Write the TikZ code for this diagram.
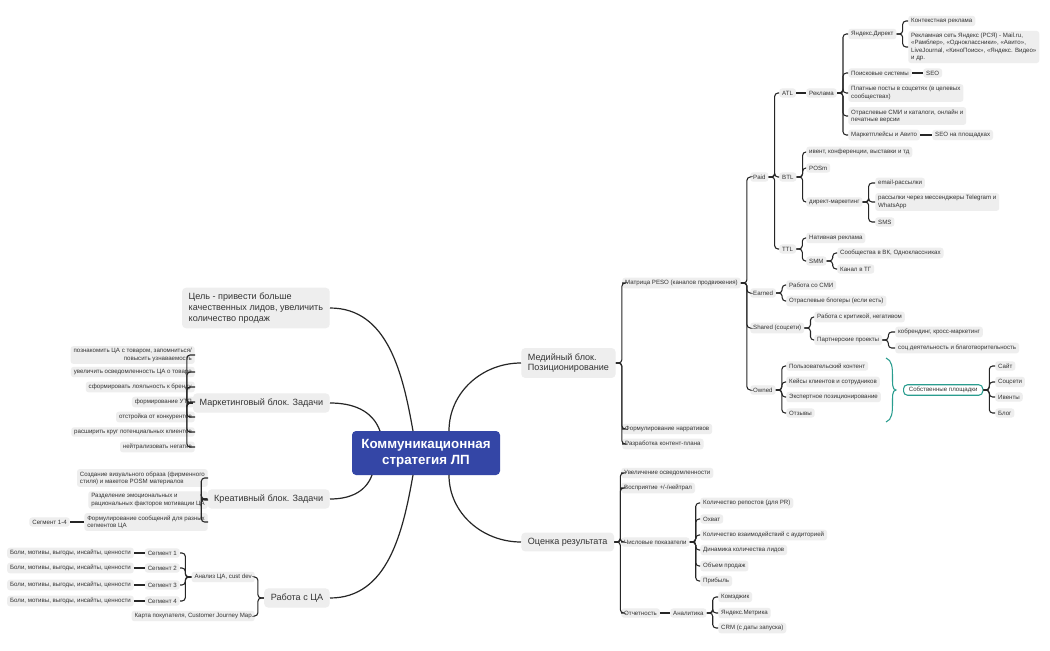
\documentclass[tikz,border=0pt]{standalone}
\usepackage{fontspec}
\setmainfont{Liberation Sans}
\definecolor{nodegray}{HTML}{EEEEEE}
\definecolor{centerblue}{HTML}{3446A6}
\definecolor{teal1}{HTML}{2A9D8F}
\newcommand\rcon[2]{\draw[conn] (#1.east) -- ++(6,0) |- (#2.west);}
\newcommand\lcon[2]{\draw[conn] (#1.west) -- ++(-6,0) |- (#2.east);}
\newcommand\hcon[2]{\draw[conn] (#1.east) -- (#2.west);}
\newcommand\hlcon[2]{\draw[conn] (#1.west) -- (#2.east);}
\begin{document}
\begin{tikzpicture}[x=0.75pt,y=-0.75pt,
  box/.style={fill=nodegray,rounded corners=2pt,inner xsep=2.2pt,inner ysep=1.8pt,font=\fontsize{4.6}{5.4}\selectfont,align=left,text=black!80},
  R/.style={box,anchor=west},
  L/.style={box,anchor=east,align=right},
  big/.style={fill=nodegray,rounded corners=3pt,inner xsep=5pt,inner ysep=4pt,font=\fontsize{6.8}{8}\selectfont,align=left,text=black!80},
  conn/.style={draw=black!85,line width=0.8pt,rounded corners=2.5pt},
  curve/.style={draw=black!85,line width=0.9pt}]
\useasboundingbox (0,0) rectangle (1050,650);
\fill[white] (0,0) rectangle (1050,650);
% center
\node[fill=centerblue,rounded corners=3pt,text=white,font=\fontsize{10}{12}\selectfont\bfseries,align=center,minimum width=111pt,minimum height=33pt] (c) at (426,453) {Коммуникационная\\стратегия ЛП};
% main branches
\node[big,anchor=west] (med) at (521,363) {Медийный блок.\\Позиционирование};
\node[big,anchor=west] (oc) at (521,542) {Оценка результата};
\node[big,anchor=east] (goal) at (330,308) {Цель - привести больше\\качественных лидов, увеличить\\количество продаж};
\node[big,anchor=east] (mk) at (330,403) {Маркетинговый блок. Задачи};
\node[big,anchor=east] (cr) at (330,499) {Креативный блок. Задачи};
\node[big,anchor=east] (ca) at (330,598) {Работа с ЦА};
\draw[curve] (449,431) to[out=90,in=180] (med.west);
\draw[curve] (449,475) to[out=-90,in=180] (oc.west);
\draw[curve] (413,431) to[out=100,in=0] (goal.east);
\draw[curve] (380,431) to[out=110,in=0] (mk.east);
\draw[curve] (372,475) to[out=-110,in=0] (cr.east);
\draw[curve] (413,475) to[out=-100,in=0] (ca.east);
% ---- Media
\node[R] (peso) at (622,283) {Матрица PESO (каналов продвижения)};
\node[R] (nar) at (622,429) {Формулирование нарративов};
\node[R] (kp) at (622,444) {Разработка контент-плана};
\foreach \n in {peso,nar,kp} {\rcon{med}{\n}}
\node[R] (paid) at (750,177) {Paid};
\node[R] (earn) at (750,293) {Earned};
\node[R] (shar) at (750,328) {Shared (соцсети)};
\node[R] (own) at (750,390) {Owned};
\foreach \n in {paid,earn,shar,own} {\rcon{peso}{\n}}
\node[R] (atl) at (779,93) {ATL};
\node[R] (btl) at (779,177) {BTL};
\node[R] (ttl) at (779,249) {TTL};
\foreach \n in {atl,btl,ttl} {\rcon{paid}{\n}}
\node[R] (rek) at (806,93) {Реклама};
\hcon{atl}{rek}
\node[R] (yd) at (848,34) {Яндекс.Директ};
\node[R] (ps) at (848,73) {Поисковые системы};
\node[R] (pp) at (848,93) {Платные посты в соцсетях (в целевых\\сообществах)};
\node[R] (os) at (848,116) {Отраслевые СМИ и каталоги, онлайн и\\печатные версии};
\node[R] (mp) at (848,135) {Маркетплейсы и Авито};
\foreach \n in {yd,ps,pp,os,mp} {\rcon{rek}{\n}}
\node[R] (kr) at (908,21) {Контекстная реклама};
\node[R] (rs) at (908,47) {Рекламная сеть Яндекс (РСЯ) - Mail.ru,\\«Рамблер», «Одноклассники», «Авито»,\\LiveJournal, «КиноПоиск», «Яндекс. Видео»\\и др.};
\foreach \n in {kr,rs} {\rcon{yd}{\n}}
\node[R] (seo) at (923,73) {SEO};
\hcon{ps}{seo}
\node[R] (seop) at (932,135) {SEO на площадках};
\hcon{mp}{seop}
\node[R] (ivent) at (806,152) {ивент, конференции, выставки и тд};
\node[R] (posm) at (806,168) {POSm};
\node[R] (dm) at (806,202) {директ-маркетинг};
\foreach \n in {ivent,posm,dm} {\rcon{btl}{\n}}
\node[R] (em) at (875,183) {email-рассылки};
\node[R] (tg) at (875,202) {рассылки через мессенджеры Telegram и\\WhatsApp};
\node[R] (sms) at (875,222) {SMS};
\foreach \n in {em,tg,sms} {\rcon{dm}{\n}}
\node[R] (nat) at (806,238) {Нативная реклама};
\node[R] (smm) at (806,261) {SMM};
\foreach \n in {nat,smm} {\rcon{ttl}{\n}}
\node[R] (vk) at (837,253) {Сообщества в ВК, Одноклассниках};
\node[R] (ktg) at (837,269) {Канал в ТГ};
\foreach \n in {vk,ktg} {\rcon{smm}{\n}}
\node[R] (smi) at (786,285) {Работа со СМИ};
\node[R] (blog) at (786,301) {Отраслевые блогеры (если есть)};
\foreach \n in {smi,blog} {\rcon{earn}{\n}}
\node[R] (krit) at (814,317) {Работа с критикой, негативом};
\node[R] (part) at (814,340) {Партнерские проекты};
\foreach \n in {krit,part} {\rcon{shar}{\n}}
\node[R] (kob) at (895,332) {кобрендинг, кросс-маркетинг};
\node[R] (soc) at (895,348) {соц деятельность и благотворительность};
\foreach \n in {kob,soc} {\rcon{part}{\n}}
\node[R] (pk) at (786,366) {Пользовательский контент};
\node[R] (kk) at (786,382) {Кейсы клиентов и сотрудников};
\node[R] (ep) at (786,397) {Экспертное позиционирование};
\node[R] (otz) at (786,413) {Отзывы};
\foreach \n in {pk,kk,ep,otz} {\rcon{own}{\n}}
\draw[teal1,line width=0.8pt] (886,358) .. controls (898,362) and (888,390) .. (896,390) .. controls (888,390) and (898,418) .. (886,422);
\node[box,anchor=west,fill=white,draw=teal1,line width=0.8pt,rounded corners=3pt,inner xsep=4pt] (sp) at (903,390) {Собственные площадки};
\node[R] (site) at (995,366) {Сайт};
\node[R] (socs) at (995,382) {Соцсети};
\node[R] (iv) at (995,397) {Ивенты};
\node[R] (bl) at (995,413) {Блог};
\foreach \n in {site,socs,iv,bl} {\rcon{sp}{\n}}
% ---- Оценка
\node[R] (uo) at (621,473) {Увеличение осведомленности};
\node[R] (vos) at (621,488) {Восприятие +/-/нейтрал};
\node[R] (chp) at (621,542) {Числовые показатели};
\node[R] (otch) at (621,613) {Отчетность};
\foreach \n in {uo,vos,chp,otch} {\rcon{oc}{\n}}
\node[R] (n1) at (700,503) {Количество репостов (для PR)};
\node[R] (n2) at (700,519) {Охват};
\node[R] (n3) at (700,535) {Количество взаимодействий с аудиторией};
\node[R] (n4) at (700,550) {Динамика количества лидов};
\node[R] (n5) at (700,566) {Объем продаж};
\node[R] (n6) at (700,581) {Прибыль};
\foreach \n in {n1,n2,n3,n4,n5,n6} {\rcon{chp}{\n}}
\node[R] (an) at (670,613) {Аналитика};
\hcon{otch}{an}
\node[R] (a1) at (718,597) {Комэджик};
\node[R] (a2) at (718,613) {Яндекс.Метрика};
\node[R] (a3) at (718,628) {CRM (с даты запуска)};
\foreach \n in {a1,a2,a3} {\rcon{an}{\n}}
% ---- Маркетинговый
\node[L] (m1) at (195,355) {познакомить ЦА с товаром, запомниться/\\повысить узнаваемость};
\node[L] (m2) at (195,372) {увеличить осведомленность ЦА о товаре};
\node[L] (m3) at (195,387) {сформировать лояльность к бренду};
\node[L] (m4) at (195,402) {формирование УТП};
\node[L] (m5) at (195,417) {отстройка от конкурентов};
\node[L] (m6) at (195,432) {расширить круг потенциальных клиентов};
\node[L] (m7) at (195,447) {нейтрализовать негатив};
\foreach \n in {m1,m2,m3,m4,m5,m6,m7} {\lcon{mk}{\n}}
% ---- Креативный
\node[L,align=left] (k1) at (208,478) {Создание визуального образа (фирменного\\стиля) и макетов POSM материалов};
\node[L,align=left] (k2) at (208,500) {Разделение эмоциональных и\\рациональных факторов мотивации ЦА};
\node[L,align=left] (k3) at (208,522) {Формулирование сообщений для разных\\сегментов ЦА};
\foreach \n in {k1,k2,k3} {\lcon{cr}{\n}}
\node[L] (s14) at (70,522) {Сегмент 1-4};
\hlcon{k3}{s14}
% ---- Работа с ЦА
\node[L] (anca) at (255,577) {Анализ ЦА, cust dev};
\node[L] (cjm) at (255,616) {Карта покупателя, Customer Journey Map};
\foreach \n in {anca,cjm} {\lcon{ca}{\n}}
\foreach \i/\y in {1/553,2/568,3/585,4/601} {
  \node[L] (seg\i) at (180,\y) {Сегмент \i};
  \node[L] (b\i) at (134,\y) {Боли, мотивы, выгоды, инсайты, ценности};
  \lcon{anca}{seg\i}
  \hlcon{seg\i}{b\i}
}
\end{tikzpicture}
\end{document}
